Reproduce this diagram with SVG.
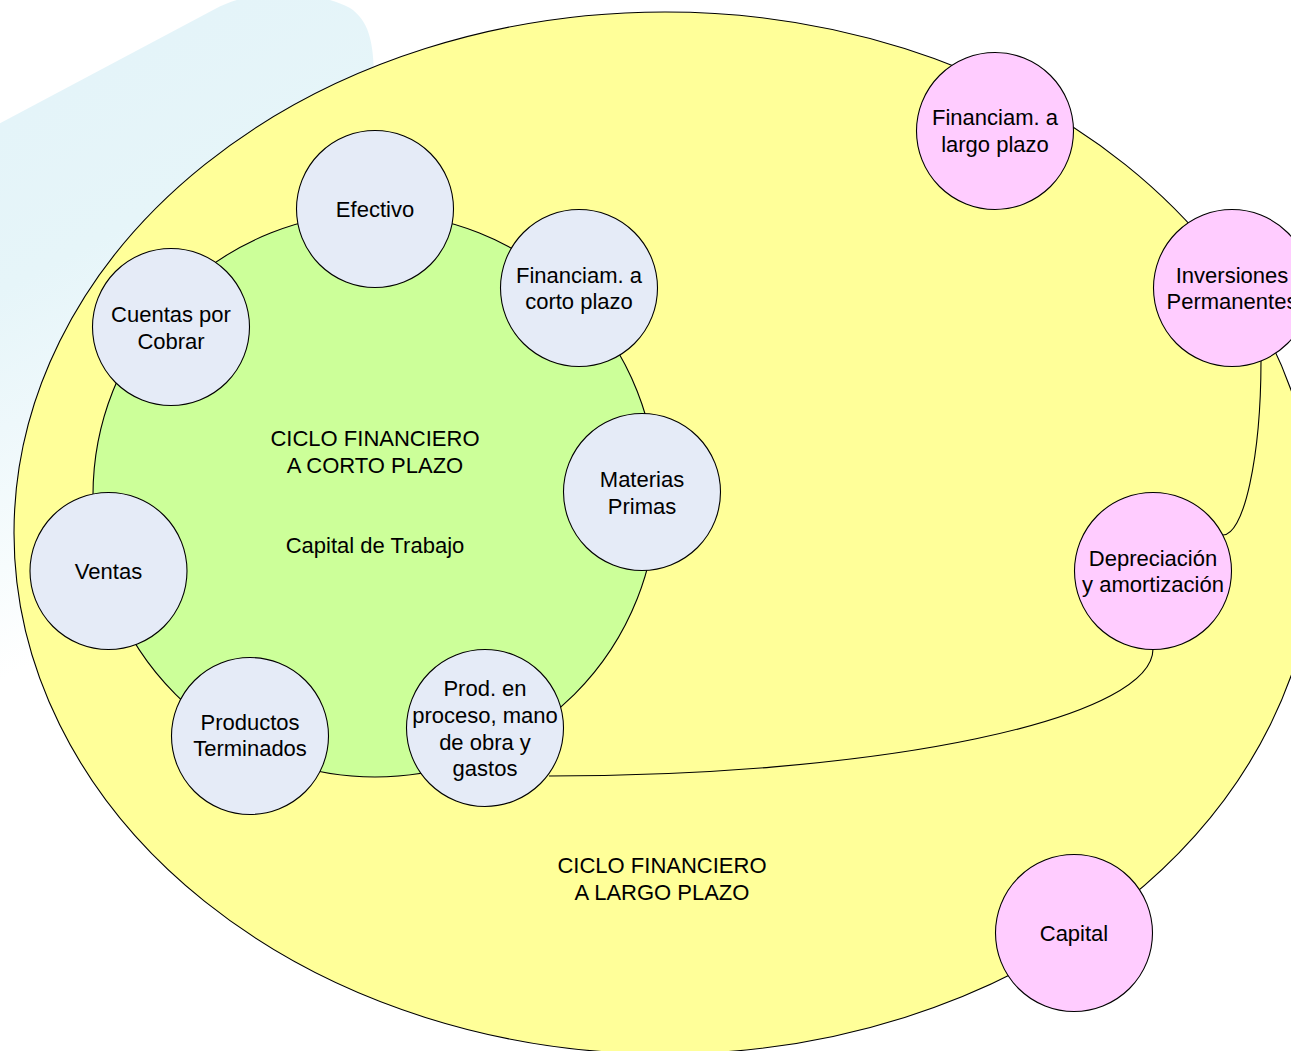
<svg xmlns="http://www.w3.org/2000/svg" width="1291" height="1051" viewBox="0 0 1291 1051">
<defs>
<linearGradient id="wm" gradientUnits="userSpaceOnUse" x1="0" y1="123" x2="230" y2="560">
<stop offset="0" stop-color="#e4f4f9"/>
<stop offset="0.3" stop-color="#e6f5f9"/>
<stop offset="0.55" stop-color="#eef8fb"/>
<stop offset="0.8" stop-color="#f7fcfd"/>
<stop offset="1" stop-color="#ffffff"/>
</linearGradient>
<style>
text{font-family:"Liberation Sans",Arial,sans-serif;font-size:22px;fill:#000;text-anchor:middle}
.st{stroke:#000;stroke-width:1.1}
.blue{fill:#e5ebf7}
.pink{fill:#ffccff}
.conn{fill:none;stroke:#000;stroke-width:1.1}
</style>
</defs>
<rect x="0" y="0" width="1291" height="1051" fill="#fff"/>
<g id="watermark">
<path d="M-20,134 L215,9 C260,-15 320,-8 350,8 C368,20 374,40 374,80 L374,1000 L-20,1000 Z" fill="url(#wm)"/>
</g>
<g id="ciclo-largo">
<ellipse class="st" cx="665" cy="533" rx="651" ry="521" fill="#ffff99"/>
<text x="662" y="873">CICLO FINANCIERO</text>
<text x="662" y="900">A LARGO PLAZO</text>
</g>
<g id="ciclo-corto">
<circle class="st" cx="375" cy="495" r="282" fill="#ccff99"/>
<text x="375" y="446">CICLO FINANCIERO</text>
<text x="375" y="473">A CORTO PLAZO</text>
<text x="375" y="553">Capital de Trabajo</text>
</g>
<g id="connectors">
<path class="conn" d="M1261,361 A38,175 0 0 1 1223,535"/>
<path class="conn" d="M1153,649 A604,127 0 0 1 549,776"/>
</g>
<g id="efectivo"><circle class="st blue" cx="375" cy="209" r="78.5"/><text x="375" y="217">Efectivo</text></g>
<g id="fin-corto"><circle class="st blue" cx="579" cy="288" r="78.5"/><text x="579" y="283">Financiam. a</text><text x="579" y="309">corto plazo</text></g>
<g id="cuentas"><circle class="st blue" cx="171" cy="327" r="78.5"/><text x="171" y="322">Cuentas por</text><text x="171" y="349">Cobrar</text></g>
<g id="materias"><circle class="st blue" cx="642" cy="492" r="78.5"/><text x="642" y="487">Materias</text><text x="642" y="514">Primas</text></g>
<g id="ventas"><circle class="st blue" cx="108.5" cy="571" r="78.5"/><text x="108.5" y="579">Ventas</text></g>
<g id="productos"><circle class="st blue" cx="250" cy="736" r="78.5"/><text x="250" y="730">Productos</text><text x="250" y="756">Terminados</text></g>
<g id="proceso"><circle class="st blue" cx="485" cy="728" r="78.5"/><text x="485" y="696">Prod. en</text><text x="485" y="723">proceso, mano</text><text x="485" y="750">de obra y</text><text x="485" y="776">gastos</text></g>
<g id="fin-largo"><circle class="st pink" cx="995" cy="131" r="78.5"/><text x="995" y="125">Financiam. a</text><text x="995" y="152">largo plazo</text></g>
<g id="inversiones"><circle class="st pink" cx="1232" cy="288" r="78.5"/><text x="1232" y="283">Inversiones</text><text x="1232" y="309">Permanentes</text></g>
<g id="depreciacion"><circle class="st pink" cx="1153" cy="571" r="78.5"/><text x="1153" y="566">Depreciación</text><text x="1153" y="592">y amortización</text></g>
<g id="capital"><circle class="st pink" cx="1074" cy="933" r="78.5"/><text x="1074" y="941">Capital</text></g>
</svg>
